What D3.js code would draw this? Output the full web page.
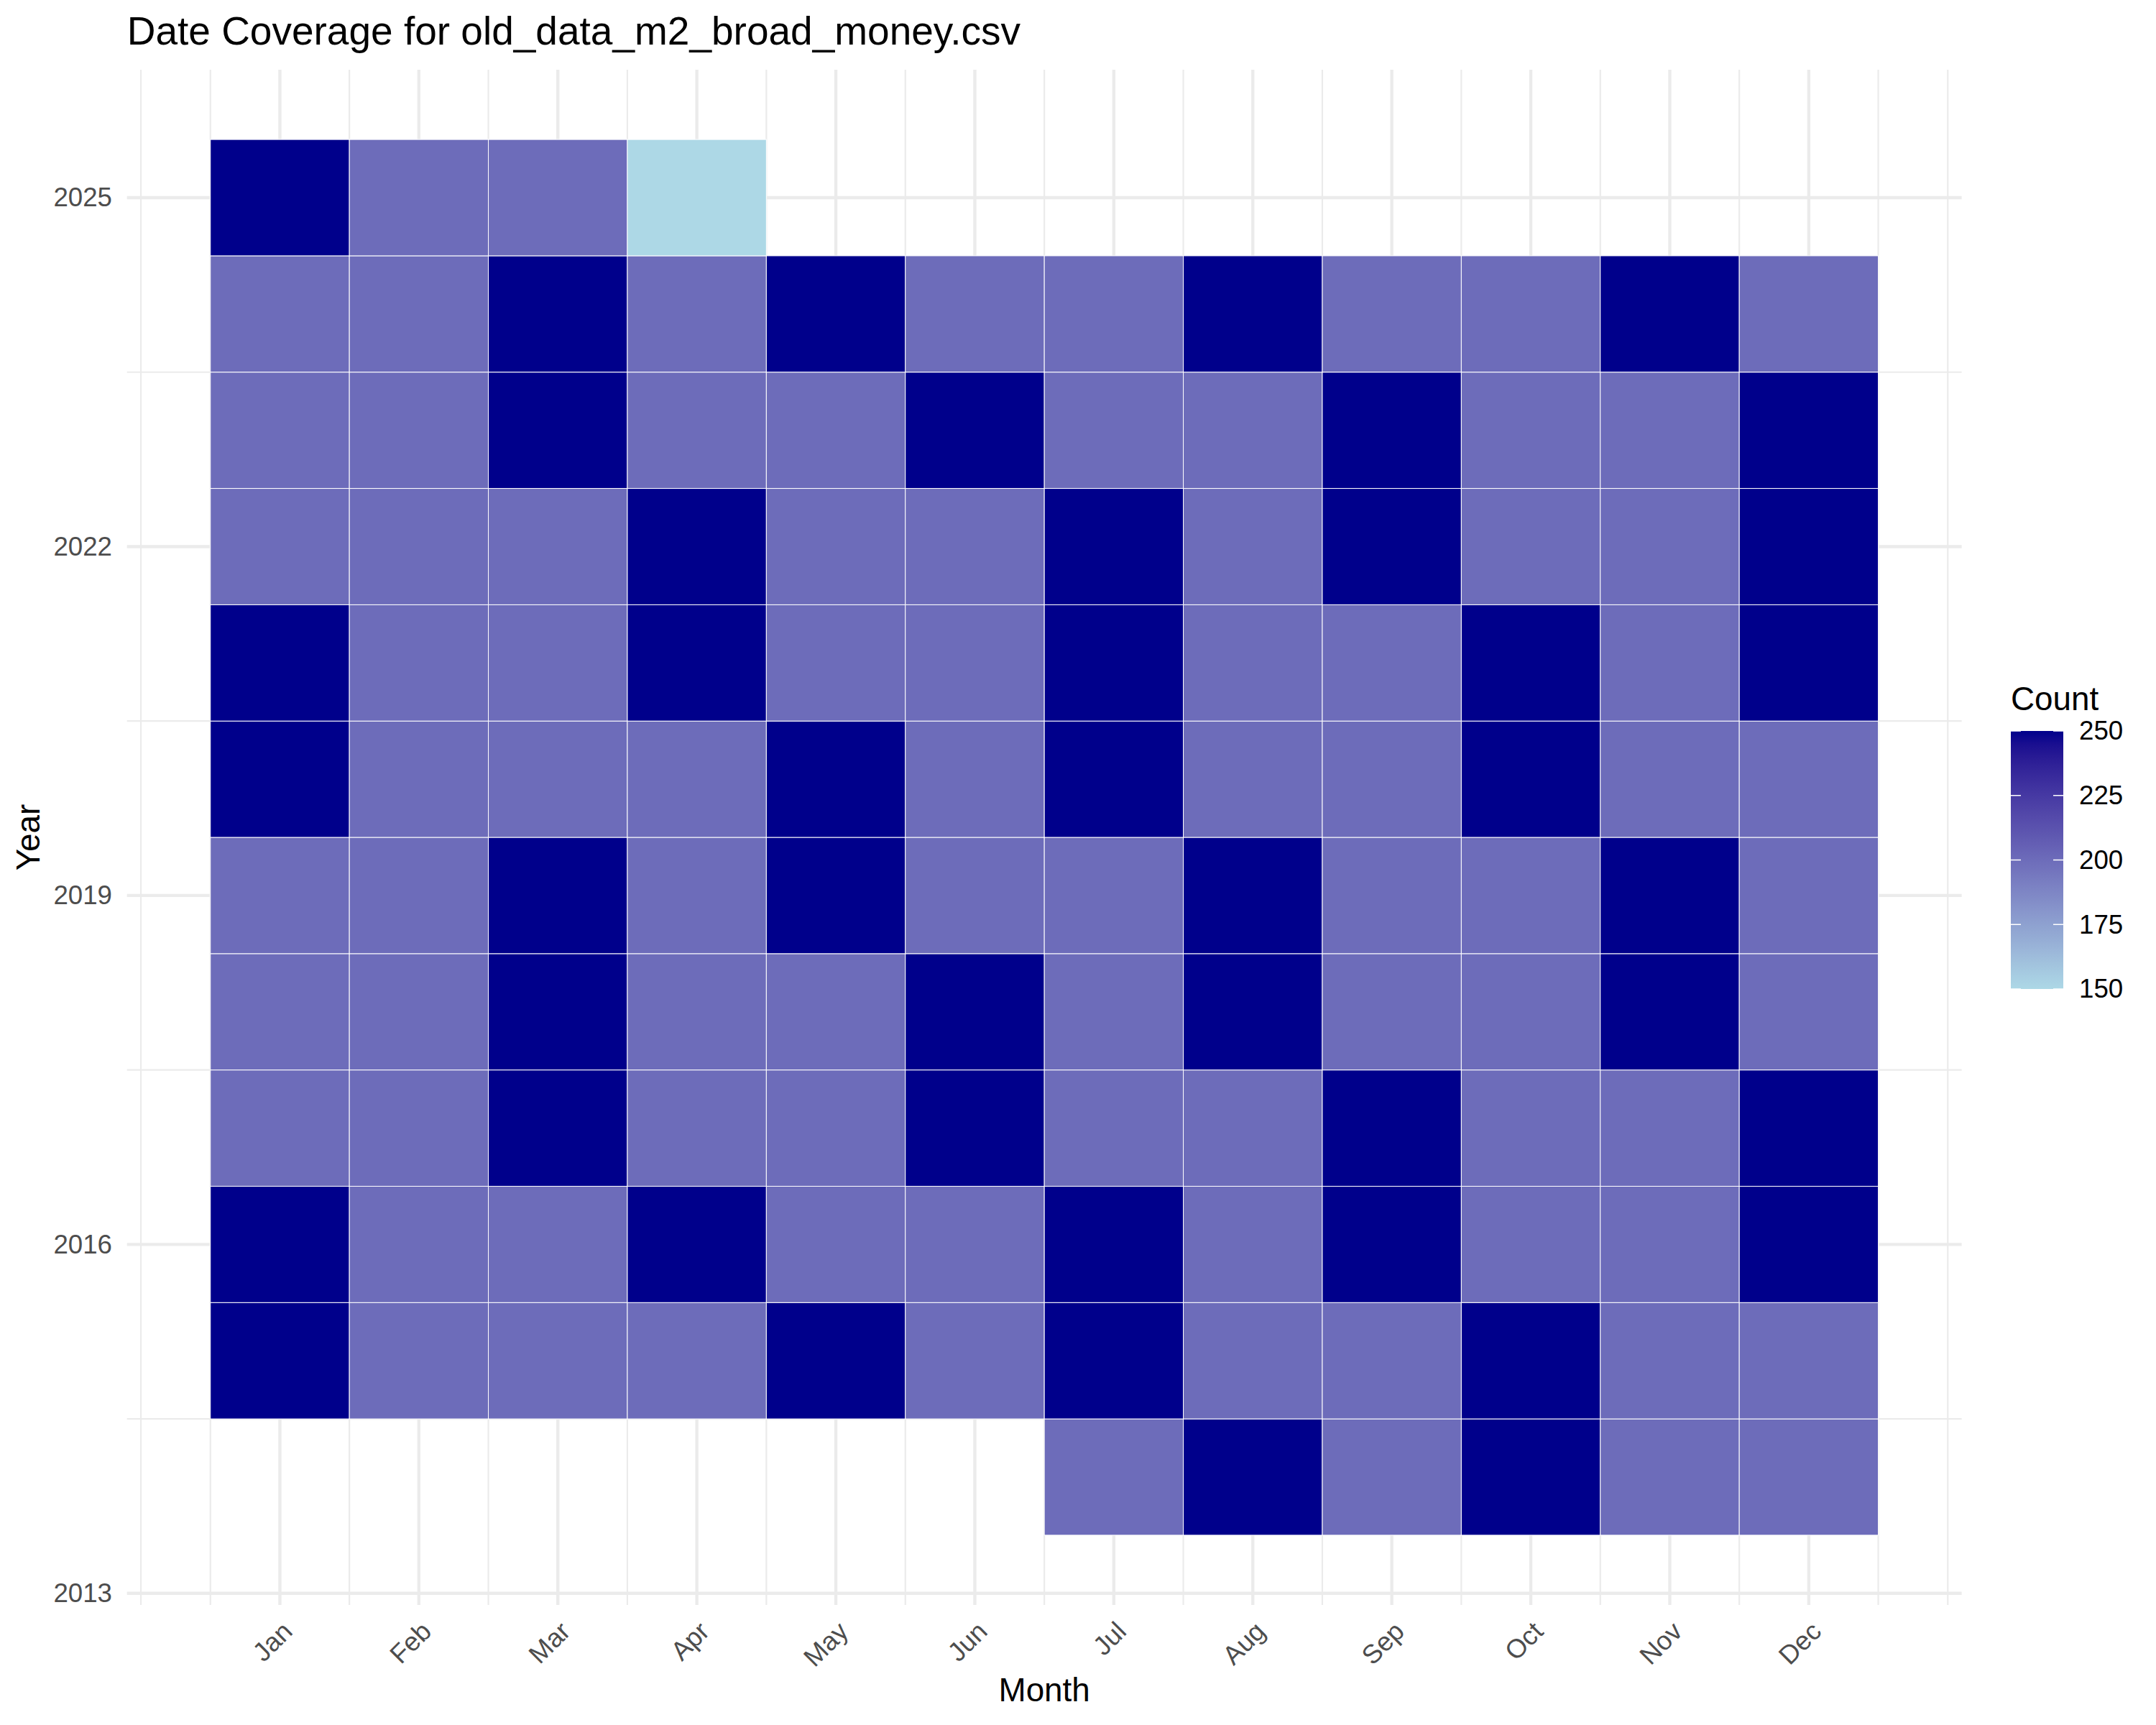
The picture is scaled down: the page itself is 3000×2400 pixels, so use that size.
<!DOCTYPE html>
<head>
<meta charset="utf-8">
<style>
body { margin:0; background:#fff; }
svg text { font-family:"Liberation Sans", Arial, sans-serif; }
</style>
</head>
<body>
<div id="chart1"></div>
<script src="https://d3js.org/d3.v7.min.js"></script>
<script>

// values, one array per year (Jan..Dec), null = no data
var months = ["Jan","Feb","Mar","Apr","May","Jun","Jul","Aug","Sep","Oct","Nov","Dec"];
var years = [2014,2015,2016,2017,2018,2019,2020,2021,2022,2023,2024,2025];
var y2014 = [null,null,null,null,null,null,200,250,200,250,200,200];
var y2015 = [250,200,200,200,250,200,250,200,200,250,200,200];
var y2016 = [250,200,200,250,200,200,250,200,250,200,200,250];
var y2017 = [200,200,250,200,200,250,200,200,250,200,200,250];
var y2018 = [200,200,250,200,200,250,200,250,200,200,250,200];
var y2019 = [200,200,250,200,250,200,200,250,200,200,250,200];
var y2020 = [250,200,200,200,250,200,250,200,200,250,200,200];
var y2021 = [250,200,200,250,200,200,250,200,200,250,200,250];
var y2022 = [200,200,200,250,200,200,250,200,250,200,200,250];
var y2023 = [200,200,250,200,200,250,200,200,250,200,200,250];
var y2024 = [200,200,250,200,250,200,200,250,200,200,250,200];
var y2025 = [250,200,200,150,null,null,null,null,null,null,null,null];
var yearTicks = [2013,2016,2019,2022,2025];
var legendTicks = [150,175,200,225,250];

var rows = [y2014,y2015,y2016,y2017,y2018,y2019,y2020,y2021,y2022,y2023,y2024,y2025];
var data = [];
rows.forEach(function(r, i) {
  r.forEach(function(v, m) {
    if (v != null) data.push({year: years[i], month: m + 1, count: v});
  });
});

var W = 3000, H = 2400;
var panel = {left: 176.7, right: 2729.6, top: 97, bottom: 2233};

var svg = d3.select('#chart1').append('svg')
    .attr('width', W).attr('height', H);

var x = d3.scaleLinear().domain([-0.1, 13.1]).range([panel.left, panel.right]);
var y = d3.scaleLinear().domain([2012.9, 2026.1]).range([panel.bottom, panel.top]);
var color = d3.scaleLinear().domain([150, 250])
    .range(["lightblue", "darkblue"]).interpolate(d3.interpolateLab);

// grid
var grid = svg.append("g").attr("stroke", "#ebebeb");
d3.range(0, 13.01, 0.5).forEach(function(v) {
  grid.append("line").attr("x1", x(v)).attr("x2", x(v))
    .attr("y1", panel.top).attr("y2", panel.bottom).attr("stroke-width", 2.2);
});
[2014.5, 2017.5, 2020.5, 2023.5].forEach(function(v) {
  grid.append("line").attr("y1", y(v)).attr("y2", y(v))
    .attr("x1", panel.left).attr("x2", panel.right).attr("stroke-width", 2.2);
});
d3.range(1, 13).forEach(function(v) {
  grid.append("line").attr("x1", x(v)).attr("x2", x(v))
    .attr("y1", panel.top).attr("y2", panel.bottom).attr("stroke-width", 4.4);
});
yearTicks.forEach(function(v) {
  grid.append("line").attr("y1", y(v)).attr("y2", y(v))
    .attr("x1", panel.left).attr("x2", panel.right).attr("stroke-width", 4.4);
});

// tiles
svg.append("g").selectAll("rect")
  .data(data)
  .enter().append("rect")
    .attr("x", function(d) { return x(d.month - 0.5); })
    .attr("y", function(d) { return y(d.year + 0.5); })
    .attr("width", function(d) { return x(d.month + 0.5) - x(d.month - 0.5); })
    .attr("height", function(d) { return y(d.year - 0.5) - y(d.year + 0.5); })
    .attr("fill", function(d) { return color(d.count); })
    .attr("stroke", "white")
    .attr("stroke-width", 1);

// axes
var yAxis = svg.append("g")
    .attr("transform", "translate(156,0)")
    .call(d3.axisLeft(y).tickValues(yearTicks).tickFormat(d3.format("d")).tickSize(0).tickPadding(0));
yAxis.select(".domain").remove();
yAxis.selectAll("text").attr("font-size", "36.7px").attr("fill", "#4d4d4d")
    .attr("font-family", "Liberation Sans, Arial, sans-serif");

var xAxis = svg.append("g")
    .attr("transform", "translate(0,2272)")
    .call(d3.axisBottom(x).tickValues(d3.range(1, 13))
      .tickFormat(function(d) { return months[d - 1]; }).tickSize(0).tickPadding(0));
xAxis.select(".domain").remove();
xAxis.selectAll("text")
    .attr("x", 0).attr("y", 0).attr("dy", 0)
    .attr("transform", "translate(19,0) rotate(-45)")
    .style("text-anchor", "end")
    .attr("font-size", "36.7px").attr("fill", "#4d4d4d")
    .attr("font-family", "Liberation Sans, Arial, sans-serif");

// titles
svg.append("text")
    .attr("x", panel.left).attr("y", 62)
    .attr("font-size", "55px")
    .text("Date Coverage for old_data_m2_broad_money.csv");

svg.append("text")
    .attr("x", (panel.left + panel.right) / 2).attr("y", 2367)
    .attr("text-anchor", "middle")
    .attr("font-size", "45.8px")
    .text("Month");

svg.append("text")
    .attr("transform", "translate(55," + ((panel.top + panel.bottom) / 2) + ") rotate(-90)")
    .attr("text-anchor", "middle")
    .attr("font-size", "45.8px")
    .text("Year");

// legend
var bar = {x: 2798, w: 73, top: 1017, bottom: 1376};
var ls = d3.scaleLinear().domain([150, 250]).range([bar.bottom, bar.top]);

var defs = svg.append("defs");
var grad = defs.append("linearGradient").attr("id", "cbar")
    .attr("x1", 0).attr("y1", 1).attr("x2", 0).attr("y2", 0);
d3.range(0, 1.001, 0.05).forEach(function(t) {
  grad.append("stop").attr("offset", t).attr("stop-color", color(150 + 100 * t));
});

svg.append("text")
    .attr("x", bar.x).attr("y", 988)
    .attr("font-size", "45.8px")
    .text("Count");

svg.append("rect")
    .attr("x", bar.x).attr("y", bar.top)
    .attr("width", bar.w).attr("height", bar.bottom - bar.top)
    .attr("fill", "url(#cbar)");

legendTicks.forEach(function(v) {
  svg.append("line").attr("x1", bar.x).attr("x2", bar.x + 14)
    .attr("y1", ls(v)).attr("y2", ls(v)).attr("stroke", "white").attr("stroke-width", 1.5);
  svg.append("line").attr("x1", bar.x + bar.w - 14).attr("x2", bar.x + bar.w)
    .attr("y1", ls(v)).attr("y2", ls(v)).attr("stroke", "white").attr("stroke-width", 1.5);
});

var lAxis = svg.append("g")
    .attr("transform", "translate(2893,0)")
    .call(d3.axisRight(ls).tickValues(legendTicks).tickSize(0).tickPadding(0));
lAxis.select(".domain").remove();
lAxis.selectAll("text").attr("font-size", "36.7px").attr("fill", "black")
    .attr("font-family", "Liberation Sans, Arial, sans-serif");

</script>
</body>
